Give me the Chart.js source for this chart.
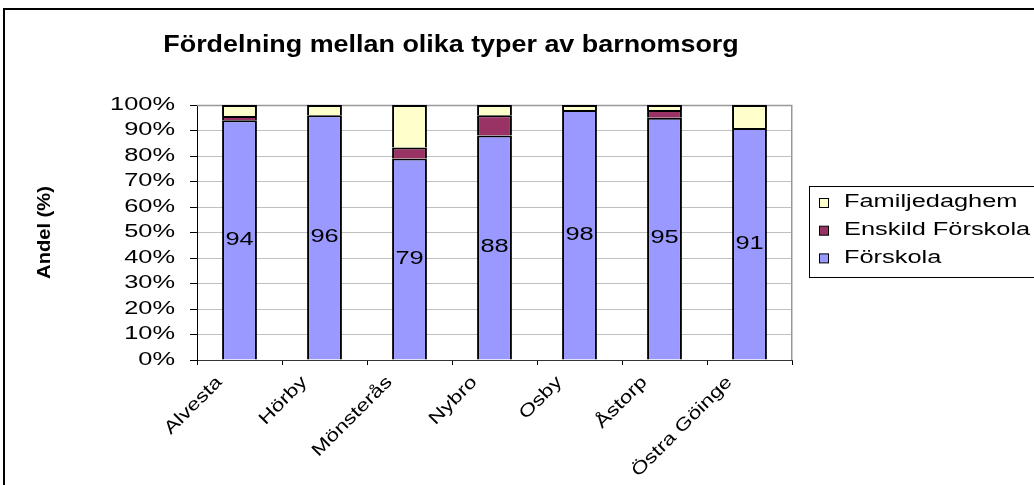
<!DOCTYPE html>
<html><head><meta charset="utf-8">
<script src="https://cdn.jsdelivr.net/npm/chart.js@4/dist/chart.umd.min.js"></script>
<style>html,body{margin:0;padding:0;background:#fff;overflow:hidden}canvas{display:block}</style>
</head><body>
<canvas id="c" width="1034" height="485"></canvas>
<script>
// ---- data ----
const chartTitle = 'Fördelning mellan olika typer av barnomsorg';
const yAxisTitle = 'Andel (%)';
const categories = ['Alvesta', 'Hörby', 'Mönsterås', 'Nybro', 'Osby', 'Åstorp', 'Östra Göinge'];
const seriesNames = ['Förskola', 'Enskild Förskola', 'Familjedaghem'];
const forskola = [94, 96, 79, 88, 98, 95, 91];
const enskildForskola = [1.7, 0, 4.3, 8, 0, 3, 0];
const familjedaghem = [4.3, 4, 16.7, 4, 2, 2, 9];
const yTickLabels = ['0%', '10%', '20%', '30%', '40%', '50%', '60%', '70%', '80%', '90%', '100%'];

// ---- style ----
const FONT = '"Liberation Sans", Arial, sans-serif';
const TEXT_SIZE = 17.5;
const X_LABEL_SIZE = 17.6;
const TEXT_STRETCH = 1.45;   // the reference's regular text is drawn wide
const X_LABEL_STRETCH = 1.28;
const BOLD_STRETCH = 1.15;
const seriesColors = ['#9999FF', '#993366', '#FFFFCC'];

Chart.defaults.font.family = FONT;
Chart.defaults.font.size = TEXT_SIZE;
Chart.defaults.color = '#000';

const stretchText = {
  id: 'stretchText',
  beforeInit(chart) {
    const ctx = chart.ctx;
    const orig = ctx.fillText;
    ctx.fillText = function (text, x, y) {
      const f = this.font;
      let k = TEXT_STRETCH;
      if (/bold|700/.test(f)) k = BOLD_STRETCH;
      else if (f.indexOf(X_LABEL_SIZE + 'px') >= 0) k = X_LABEL_STRETCH;
      this.save();
      this.translate(x, y);
      this.scale(k, 1);
      orig.call(this, text, 0, 0);
      this.restore();
    };
  }
};

const frame = {
  id: 'frame',
  beforeDraw(chart) {
    const ctx = chart.ctx;
    ctx.save();
    ctx.strokeStyle = '#000';
    ctx.lineWidth = 2;
    ctx.strokeRect(4, 9, 3000, 3000);
    ctx.fillStyle = '#000';
    ctx.font = 'bold 23.4px ' + FONT;
    ctx.textAlign = 'center';
    ctx.textBaseline = 'alphabetic';
    ctx.fillText(chartTitle, 451, 52);
    ctx.restore();
  },
  beforeDatasetsDraw(chart) {
    const {ctx, chartArea: a} = chart;
    ctx.save();
    ctx.strokeStyle = '#999';
    ctx.lineWidth = 1.5;
    ctx.beginPath();
    ctx.moveTo(a.left, a.top + 0.5);
    ctx.lineTo(a.right - 0.25, a.top + 0.5);
    ctx.lineTo(a.right - 0.25, a.bottom);
    ctx.stroke();
    ctx.restore();
  },
  afterDatasetsDraw(chart) {
    const ctx = chart.ctx;
    const meta = chart.getDatasetMeta(0);
    ctx.save();
    ctx.fillStyle = '#000';
    ctx.font = TEXT_SIZE + 'px ' + FONT;
    ctx.textAlign = 'center';
    ctx.textBaseline = 'middle';
    meta.data.forEach((bar, i) => {
      const p = bar.getProps(['x', 'y', 'base'], true);
      ctx.fillText(String(forskola[i]), p.x, (p.y + p.base) / 2);
    });
    ctx.restore();
  },
  afterDraw(chart) {
    const ctx = chart.ctx;
    ctx.save();
    ctx.strokeStyle = '#000';
    ctx.lineWidth = 1;
    ctx.strokeRect(809.5, 186.5, 400, 91);
    ctx.font = TEXT_SIZE + 'px ' + FONT;
    ctx.textAlign = 'left';
    ctx.textBaseline = 'middle';
    const ds = chart.data.datasets.slice().reverse();
    ds.forEach((d, i) => {
      const y = 202.5 + i * 27.7;
      ctx.fillStyle = d.backgroundColor;
      ctx.fillRect(819.5, y - 4, 9, 9);
      ctx.strokeRect(819.5, y - 4, 9, 9);
      ctx.fillStyle = '#000';
      ctx.fillText(d.label, 844, y);
    });
    ctx.restore();
  }
};

const mkDs = (label, data, color) => ({
  label, data, backgroundColor: color, borderColor: '#000', borderWidth: 2,
  barPercentage: 0.41, categoryPercentage: 1.0
});

new Chart(document.getElementById('c'), {
  type: 'bar',
  data: {
    labels: categories,
    datasets: [
      mkDs(seriesNames[0], forskola, seriesColors[0]),
      mkDs(seriesNames[1], enskildForskola, seriesColors[1]),
      mkDs(seriesNames[2], familjedaghem, seriesColors[2])
    ]
  },
  options: {
    responsive: false,
    animation: false,
    devicePixelRatio: 1,
    layout: {padding: {left: 34.5, right: 242, top: 105, bottom: 0}},
    plugins: {legend: {display: false}, title: {display: false}, tooltip: {enabled: false}},
    scales: {
      x: {
        stacked: true,
        grid: {drawOnChartArea: false, drawTicks: true, tickLength: 5, tickColor: '#000', offset: true},
        border: {color: '#333', width: 1},
        ticks: {autoSkip: false, minRotation: 45, maxRotation: 45, labelOffset: -20, padding: 7,
                font: {size: X_LABEL_SIZE}, color: '#000'},
        afterFit(s) { s.height = 125; }
      },
      y: {
        stacked: true, min: 0, max: 100,
        grid: {color: '#c0c0c0', tickColor: '#000', tickLength: 7, lineWidth: 1},
        border: {color: '#000', width: 1},
        ticks: {stepSize: 10, padding: 15, color: '#000', font: {size: TEXT_SIZE},
                callback: (v, i) => yTickLabels[i]},
        title: {display: true, text: yAxisTitle, color: '#000', padding: {top: 0, bottom: 0},
                font: {size: TEXT_SIZE, weight: 'bold'}},
        afterFit(s) { s.width = 162.5; }
      }
    }
  },
  plugins: [stretchText, frame]
});
</script>
</body></html>
